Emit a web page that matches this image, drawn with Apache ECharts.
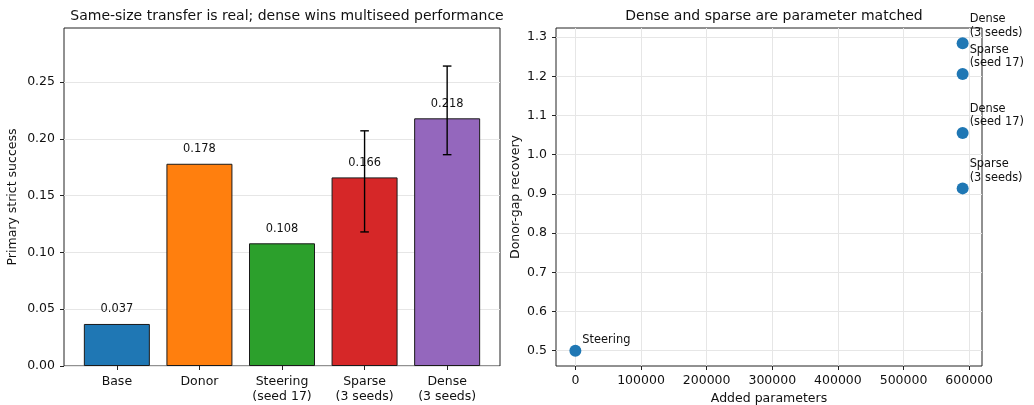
<!DOCTYPE html>
<html>
<head>
<meta charset="utf-8">
<script src="https://cdn.jsdelivr.net/npm/echarts@6/dist/echarts.min.js"></script>
<style>
html, body { margin: 0; padding: 0; background: #fff; }
#chart { width: 1034px; height: 405px; }
</style>
</head>
<body>
<div id="chart"></div>
<script>
// left panel: strict success per method
const categories = ['Base', 'Donor', 'Steering\n(seed 17)', 'Sparse\n(3 seeds)', 'Dense\n(3 seeds)'];
const successValues = [0.037, 0.178, 0.108, 0.166, 0.218];
const barColors = ['#1f77b4', '#ff7f0e', '#2ca02c', '#d62728', '#9467bd'];
// [category index, low, high]
const errorRows = [[3, 0.118, 0.207], [4, 0.186, 0.264]];
const successTicks = [0, 0.05, 0.10, 0.15, 0.20, 0.25];

// right panel: recovery vs added parameters
const pointNames = ['Steering', 'Sparse\n(seed 17)', 'Dense\n(seed 17)', 'Sparse\n(3 seeds)', 'Dense\n(3 seeds)'];
const addedParams = [0, 590000, 590000, 590000, 590000];
const recovery = [0.5, 1.206, 1.055, 0.914, 1.284];
const recoveryTicks = [0.5, 0.6, 0.7, 0.8, 0.9, 1.0, 1.1, 1.2, 1.3];
const paramTicks = [0, 100000, 200000, 300000, 400000, 500000, 600000];

const FONT = 'DejaVu Sans';
const INK = '#111';
const GRID_LINE = '#e6e6e6';

// matplotlib style 5% margins
function padRange(arr, m) {
  const lo = Math.min(...arr), hi = Math.max(...arr);
  const d = (hi - lo) * m;
  return [lo - d, hi + d];
}
const xr = padRange(addedParams, 0.05);
const yr = padRange(recovery, 0.05);

const chart = echarts.init(document.getElementById('chart'));

const option = {
  animation: false,
  textStyle: { fontFamily: FONT },
  title: [
    { text: 'Same-size transfer is real; dense wins multiseed performance', left: 282, top: 4, textAlign: 'center',
      textStyle: { fontFamily: FONT, fontSize: 14, fontWeight: 'normal', color: INK } },
    { text: 'Dense and sparse are parameter matched', left: 769, top: 4, textAlign: 'center',
      textStyle: { fontFamily: FONT, fontSize: 14, fontWeight: 'normal', color: INK } }
  ],
  grid: [
    { left: 64, top: 28, width: 436, height: 338, show: true, borderColor: '#222', borderWidth: 1,
      backgroundColor: 'transparent', containLabel: false, outerBoundsMode: 'none' },
    { left: 556, top: 28, width: 426, height: 338, show: true, borderColor: '#222', borderWidth: 1,
      backgroundColor: 'transparent', containLabel: false, outerBoundsMode: 'none' }
  ],
  xAxis: [
    {
      gridIndex: 0, type: 'value', min: -0.64, max: 4.64,
      axisLine: { show: false, onZero: false },
      axisTick: { show: true, length: 4, lineStyle: { color: '#222' }, customValues: [0, 1, 2, 3, 4] },
      axisLabel: { customValues: [0, 1, 2, 3, 4], formatter: (v) => categories[Math.round(v)], color: INK,
        fontSize: 12.5, fontFamily: FONT, margin: 8, lineHeight: 15 },
      splitLine: { show: false }
    },
    {
      gridIndex: 1, type: 'value', min: xr[0], max: xr[1],
      name: 'Added parameters', nameLocation: 'middle', nameGap: 26,
      nameTextStyle: { fontSize: 12.5, fontFamily: FONT, color: INK },
      axisLine: { show: false, onZero: false },
      axisTick: { show: true, length: 4, lineStyle: { color: '#222' }, customValues: paramTicks },
      axisLabel: { customValues: paramTicks, formatter: (v) => String(Math.round(v)), color: INK,
        fontSize: 12.5, fontFamily: FONT, margin: 8 },
      splitLine: { show: true, lineStyle: { color: GRID_LINE, width: 1 } }
    }
  ],
  yAxis: [
    {
      gridIndex: 0, type: 'value', min: 0, max: 0.2975, interval: 0.05,
      name: 'Primary strict success', nameLocation: 'middle', nameGap: 45,
      nameTextStyle: { fontSize: 12.5, fontFamily: FONT, color: INK },
      axisLine: { show: false, onZero: false },
      axisTick: { show: true, length: 4, lineStyle: { color: '#222' }, customValues: successTicks },
      axisLabel: { customValues: successTicks, formatter: (v) => v.toFixed(2), color: INK,
        fontSize: 12.5, fontFamily: FONT, margin: 9 },
      splitLine: { show: true, lineStyle: { color: GRID_LINE, width: 1 } }
    },
    {
      gridIndex: 1, type: 'value', min: yr[0], max: yr[1], splitNumber: 8,
      name: 'Donor-gap recovery', nameLocation: 'middle', nameGap: 34,
      nameTextStyle: { fontSize: 12.5, fontFamily: FONT, color: INK },
      axisLine: { show: false, onZero: false },
      axisTick: { show: true, length: 4, lineStyle: { color: '#222' }, customValues: recoveryTicks },
      axisLabel: { customValues: recoveryTicks, formatter: (v) => v.toFixed(1), color: INK,
        fontSize: 12.5, fontFamily: FONT, margin: 9 },
      splitLine: { show: true, lineStyle: { color: GRID_LINE, width: 1 } }
    }
  ],
  series: [
    {
      type: 'bar', xAxisIndex: 0, yAxisIndex: 0, barWidth: 66,
      data: successValues.map((v, i) => ({
        value: [i, v],
        itemStyle: { color: barColors[i], borderColor: '#1a1a1a', borderWidth: 1 }
      })),
      label: { show: true, position: 'top', distance: 9, formatter: (p) => p.value[1].toFixed(3),
        fontSize: 11.4, fontFamily: FONT, color: INK },
      z: 2
    },
    {
      type: 'custom', xAxisIndex: 0, yAxisIndex: 0,
      data: errorRows,
      encode: { x: 0, y: [1, 2] },
      renderItem: (params, api) => {
        const x = api.value(0);
        const lo = api.coord([x, api.value(1)]);
        const hi = api.coord([x, api.value(2)]);
        const cap = 4.3;
        const st = { stroke: '#000', lineWidth: 1.4 };
        return {
          type: 'group',
          children: [
            { type: 'line', shape: { x1: lo[0], y1: lo[1], x2: hi[0], y2: hi[1] }, style: st },
            { type: 'line', shape: { x1: lo[0] - cap, y1: lo[1], x2: lo[0] + cap, y2: lo[1] }, style: st },
            { type: 'line', shape: { x1: hi[0] - cap, y1: hi[1], x2: hi[0] + cap, y2: hi[1] }, style: st }
          ]
        };
      },
      z: 5
    },
    {
      type: 'scatter', xAxisIndex: 1, yAxisIndex: 1, symbolSize: 12,
      itemStyle: { color: '#1f77b4', opacity: 1 },
      data: addedParams.map((x, i) => [x, recovery[i]]),
      label: {
        show: true, position: [13, 2], align: 'left', verticalAlign: 'bottom',
        formatter: (p) => pointNames[p.dataIndex],
        fontSize: 11.4, fontFamily: FONT, color: INK, lineHeight: 13.5
      },
      z: 3
    }
  ]
};

chart.setOption(option);
</script>
</body>
</html>
